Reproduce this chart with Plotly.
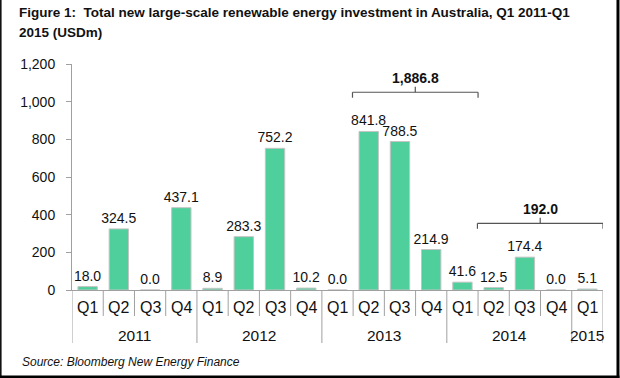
import plotly.graph_objects as go

years = ["2011"] * 4 + ["2012"] * 4 + ["2013"] * 4 + ["2014"] * 4 + ["2015"]
quarters = ["Q1", "Q2", "Q3", "Q4"] * 4 + ["Q1"]
values = [18.0, 324.5, 0.0, 437.1, 8.9, 283.3, 752.2, 10.2,
          0.0, 841.8, 788.5, 214.9, 41.6, 12.5, 174.4, 0.0, 5.1]
y_ticks = [0, 200, 400, 600, 800, 1000, 1200]
y_tick_labels = ["0", "200", "400", "600", "800", "1,000", "1,200"]
brackets = [
    # (first index, last index, label, line level)
    (9, 12, "1,886.8", 1050),
    (13, 16, "192.0", 354),
]
title_lines = ["Figure 1:  Total new large-scale renewable energy investment in Australia, Q1 2011-Q1",
               "2015 (USDm)"]
source_text = "Source: Bloomberg New Energy Finance"

FONT = "Liberation Sans, Arial, sans-serif"
AX = "#a0a0a0"

cats = [f"{y} {q}" for y, q in zip(years, quarters)]

fig = go.Figure()
fig.add_trace(go.Bar(
    x=cats,
    y=values,
    marker=dict(color="#4ecf9c", line=dict(color="#c4c4c4", width=1)),
    text=[f"{v:.1f}" for v in values],
    textposition="outside",
    constraintext="none",
    textfont=dict(family=FONT, size=14, color="#111111"),
    cliponaxis=False,
    hoverinfo="skip",
))

# pixel helpers (plot area: x 72..603.5, y 64..290)
W, H = 531.5, 226.0
L, T = 72.0, 64.0
def px_x(p):
    return (p - L) / W
def px_y(p):
    return (T + H - p) / H

shapes = []
annotations = []
for i0, i1, label, lvl in brackets:
    xa, xb = i0 - 0.52, i1 + 0.5
    xm = (xa + xb) / 2
    drop = 29
    line = dict(color="#555555", width=1.2)
    shapes.append(dict(type="line", xref="x", yref="y", x0=xa, x1=xb, y0=lvl, y1=lvl, line=line))
    shapes.append(dict(type="line", xref="x", yref="y", x0=xa, x1=xa, y0=lvl, y1=lvl - drop, line=line))
    shapes.append(dict(type="line", xref="x", yref="y", x0=xb, x1=xb, y0=lvl, y1=lvl - drop, line=line))
    shapes.append(dict(type="line", xref="x", yref="y", x0=xm, x1=xm, y0=lvl, y1=lvl + drop, line=line))
    annotations.append(dict(x=xm, y=lvl + 76, xref="x", yref="y", text=f"<b>{label}</b>",
                            showarrow=False, font=dict(family=FONT, size=14, color="#111111")))

# category boundaries: quarter ticks and year dividers
n = len(cats)
for b in range(n + 1):
    xb = b - 0.5
    is_year = b == 0 or b == n or years[b] != years[b - 1]
    bottom = 343 if is_year else 316
    shapes.append(dict(type="line", xref="x", yref="paper", x0=xb, x1=xb,
                       y0=px_y(290), y1=px_y(bottom), line=dict(color=AX, width=1)))

# quarter labels and year labels
for i, q in enumerate(quarters):
    annotations.append(dict(x=i, y=px_y(307.5), xref="x", yref="paper", text=q, showarrow=False,
                            yanchor="middle", font=dict(family=FONT, size=16, color="#111111")))
uniq_years = []
for y in years:
    if y not in uniq_years:
        uniq_years.append(y)
for y in uniq_years:
    idx = [i for i, yy in enumerate(years) if yy == y]
    annotations.append(dict(x=(idx[0] + idx[-1]) / 2, y=px_y(335), xref="x", yref="paper", text=y,
                            showarrow=False, yanchor="middle",
                            font=dict(family=FONT, size=15.5, color="#111111")))

# page border (left, right, bottom)
border = dict(color="#000000", width=0)
shapes.append(dict(type="rect", xref="paper", yref="paper", x0=px_x(0), x1=px_x(1.5),
                   y0=px_y(378), y1=px_y(0), fillcolor="#000000", line=border, layer="above"))
shapes.append(dict(type="rect", xref="paper", yref="paper", x0=px_x(617), x1=px_x(620),
                   y0=px_y(378), y1=px_y(0), fillcolor="#000000", line=border, layer="above"))
shapes.append(dict(type="rect", xref="paper", yref="paper", x0=px_x(0), x1=px_x(620),
                   y0=px_y(378), y1=px_y(375.5), fillcolor="#000000", line=border, layer="above"))

for k, tl in enumerate(title_lines):
    annotations.append(dict(xref="paper", yref="paper", x=px_x(17), y=px_y(12.5 + 20 * k),
                            xanchor="left", yanchor="middle", align="left", showarrow=False,
                            text=f"<b>{tl}</b>",
                            font=dict(family=FONT, size=13.5, color="#111111")))
annotations.append(dict(xref="paper", yref="paper", x=px_x(20), y=px_y(362), xanchor="left", yanchor="middle",
                        showarrow=False, text=f"<i>{source_text}</i>",
                        font=dict(family=FONT, size=12, color="#111111")))

fig.update_layout(
    width=620, height=378,
    margin=dict(l=72, r=16.5, t=64, b=88, autoexpand=False),
    paper_bgcolor="white", plot_bgcolor="white",
    showlegend=False,
    bargap=0.38,
    shapes=shapes,
    annotations=annotations,
    font=dict(family=FONT, size=14, color="#111111"),
)
fig.update_xaxes(
    type="category",
    range=[-0.5, n - 0.5],
    showline=True, linecolor=AX, linewidth=1,
    showticklabels=False, ticks="",
    showgrid=False, automargin=False,
)
fig.update_yaxes(
    range=[0, 1200], tickvals=y_ticks, ticktext=y_tick_labels,
    showline=True, linecolor=AX, linewidth=1,
    ticks="outside", ticklen=5, tickcolor=AX,
    ticklabelstandoff=8,
    tickfont=dict(family=FONT, size=14, color="#111111"),
    showgrid=False, zeroline=False, automargin=False,
)
fig.write_html("out.html", config={"displayModeBar": False},
               post_script="document.body.style.margin='0';document.body.style.overflow='hidden';")
